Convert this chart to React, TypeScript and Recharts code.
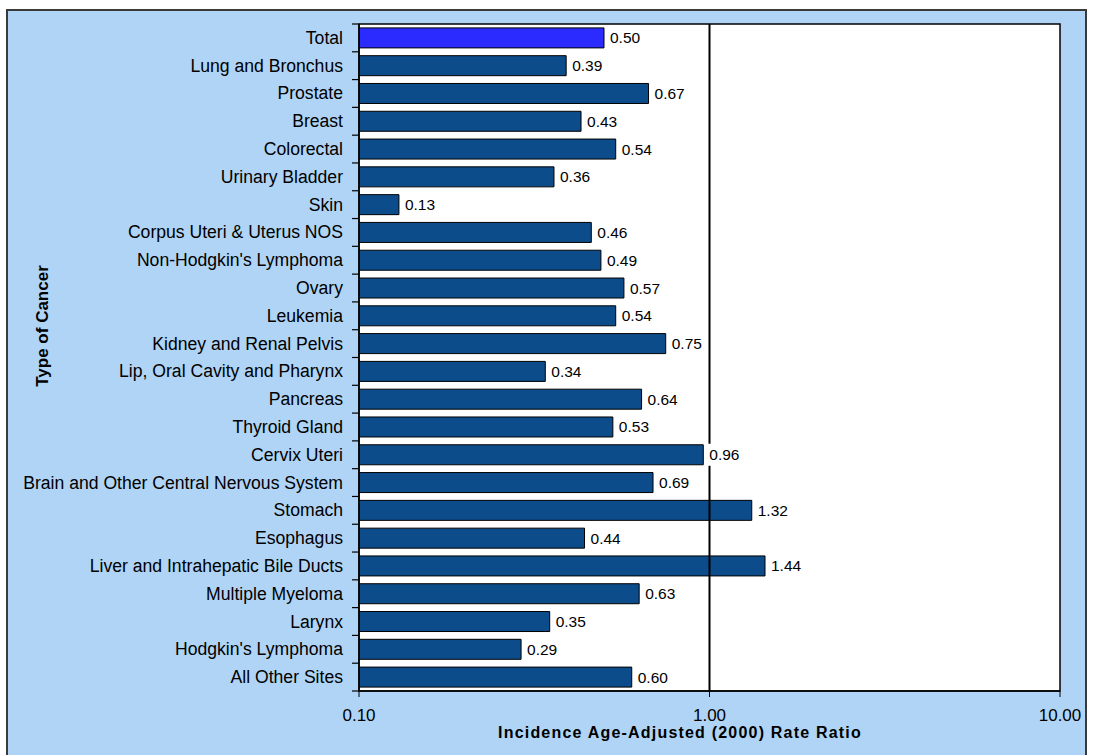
import { BarChart, Bar, XAxis, YAxis, Cell, LabelList, ReferenceLine, ReferenceArea } from 'recharts';

const cancerTypes = [
  'Total',
  'Lung and Bronchus',
  'Prostate',
  'Breast',
  'Colorectal',
  'Urinary Bladder',
  'Skin',
  'Corpus Uteri & Uterus NOS',
  "Non-Hodgkin's Lymphoma",
  'Ovary',
  'Leukemia',
  'Kidney and Renal Pelvis',
  'Lip, Oral Cavity and Pharynx',
  'Pancreas',
  'Thyroid Gland',
  'Cervix Uteri',
  'Brain and Other Central Nervous System',
  'Stomach',
  'Esophagus',
  'Liver and Intrahepatic Bile Ducts',
  'Multiple Myeloma',
  'Larynx',
  "Hodgkin's Lymphoma",
  'All Other Sites',
];

const rateRatios = [
  0.5, 0.39, 0.67, 0.43, 0.54, 0.36, 0.13, 0.46, 0.49, 0.57, 0.54, 0.75,
  0.34, 0.64, 0.53, 0.96, 0.69, 1.32, 0.44, 1.44, 0.63, 0.35, 0.29, 0.6,
];

const xTicks = [0.1, 1, 10];

const data = cancerTypes.map((name, i) => ({ name, ratio: rateRatios[i] }));

const font = '"Liberation Sans", Arial, sans-serif';
const plotTop = 24;
const plotBottom = 691;
const rowStep = (plotBottom - plotTop) / cancerTypes.length;

// tick x arrives 8px left of the axis (tickSize 6 + tickMargin 2)
function CategoryTick(props: any) {
  const { x, y, payload, index } = props;
  const ax = x + 8;
  return (
    <g>
      <text x={ax - 16} y={y} dy={6} textAnchor="end" fontSize={17.6} fill="#000" fontFamily={font}>
        {payload.value}
      </text>
      {index === 0 && <line x1={ax - 7} x2={ax} y1={y - rowStep / 2} y2={y - rowStep / 2} stroke="#000" strokeWidth={1.2} />}
      <line x1={ax - 7} x2={ax} y1={y + rowStep / 2} y2={y + rowStep / 2} stroke="#000" strokeWidth={1.2} />
    </g>
  );
}

function ValueLabel(props: any) {
  const { x, y, width, height, value } = props;
  const tx = x + width + 3;
  const cy = y + height / 2;
  const txt = Number(value).toFixed(2);
  return (
    <g>
      <rect x={tx} y={cy - 11} width={txt.length * 8 + 3} height={22} fill="#fff" />
      <text x={tx + 3} y={cy} dy={5.5} fontSize={15.5} fill="#000" fontFamily={font}>
        {txt}
      </text>
    </g>
  );
}

function XTitle(props: any) {
  const { viewBox } = props;
  return (
    <text
      x={680}
      y={viewBox.y + viewBox.height - 17}
      textAnchor="middle"
      fontSize={16}
      fontWeight="bold"
      letterSpacing={1.2}
      fill="#000"
      fontFamily={font}
    >
      Incidence Age-Adjusted (2000) Rate Ratio
    </text>
  );
}

function YTitle() {
  return (
    <text
      x={0}
      y={0}
      transform="translate(48, 326) rotate(-90)"
      textAnchor="middle"
      fontSize={17}
      fontWeight="bold"
      fill="#000"
      fontFamily={font}
    >
      Type of Cancer
    </text>
  );
}

export default function App() {
  return (
    <div style={{ position: 'absolute', left: 0, top: 0, width: 1093, height: 755, overflow: 'hidden', background: '#fff' }}>
      <div
        style={{
          position: 'absolute',
          left: 6,
          top: 9,
          width: 1081,
          height: 760,
          background: '#B0D4F6',
          border: '2px solid #3a3a3a',
          boxSizing: 'border-box',
        }}
      />
      <div style={{ position: 'absolute', left: 0, top: 0 }}>
        <BarChart
          width={1093}
          height={755}
          data={data}
          layout="vertical"
          margin={{ top: plotTop, right: 33, bottom: 0, left: 0 }}
          barCategoryGap="14%"
        >
          <ReferenceArea x1={0.1} x2={10} fill="#fff" fillOpacity={1} stroke="#000" strokeWidth={1.5} ifOverflow="visible" />
          <ReferenceLine x={1} stroke="#000" strokeWidth={2} />
          <XAxis
            type="number"
            scale="log"
            domain={[0.1, 10]}
            ticks={xTicks}
            allowDataOverflow
            height={755 - plotBottom}
            tickFormatter={(v: number) => v.toFixed(2)}
            tick={{ fontSize: 17, fill: '#000', fontFamily: font }}
            tickSize={6}
            tickMargin={12}
            axisLine={{ stroke: '#000', strokeWidth: 1.5 }}
            tickLine={{ stroke: '#000' }}
            label={<XTitle />}
          />
          <YAxis
            type="category"
            dataKey="name"
            width={359}
            tick={<CategoryTick />}
            tickLine={false}
            interval={0}
            axisLine={{ stroke: '#000', strokeWidth: 1.5 }}
            label={<YTitle />}
          />
          <Bar dataKey="ratio" stroke="#000" strokeWidth={1} isAnimationActive={false}>
            {data.map((d, i) => (
              <Cell key={d.name} fill={i === 0 ? '#2B2BFF' : '#0D4C8A'} />
            ))}
            <LabelList dataKey="ratio" content={<ValueLabel />} />
          </Bar>
        </BarChart>
      </div>
    </div>
  );
}
